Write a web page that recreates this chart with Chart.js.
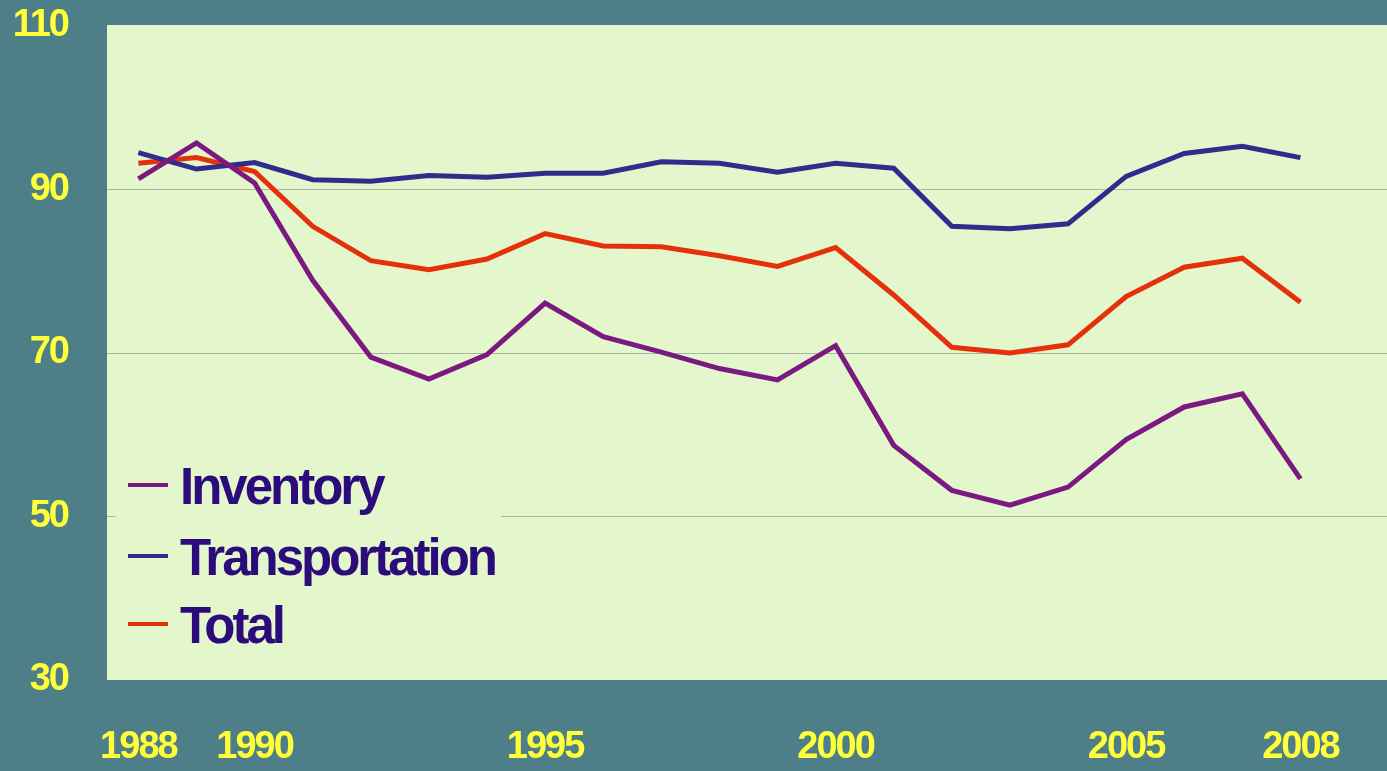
<!DOCTYPE html>
<html>
<head>
<meta charset="utf-8">
<script src="https://cdn.jsdelivr.net/npm/chart.js@4/dist/chart.umd.min.js"></script>
<style>
html,body{margin:0;padding:0;background:#4e7f88;}
#wrap{width:1387px;height:771px;position:relative;}
</style>
</head>
<body>
<div id="wrap"><canvas id="c" width="1387" height="771"></canvas></div>
<script>
const years = [1988,1989,1990,1991,1992,1993,1994,1995,1996,1997,1998,1999,2000,2001,2002,2003,2004,2005,2006,2007,2008];
const inventory = [91.3,95.7,90.8,78.9,69.5,66.8,69.8,76.1,72.0,70.1,68.1,66.7,70.9,58.7,53.2,51.4,53.6,59.4,63.4,65.0,54.6];
const transportation = [94.5,92.5,93.3,91.2,91.0,91.7,91.5,92.0,92.0,93.4,93.2,92.1,93.2,92.6,85.5,85.2,85.8,91.6,94.4,95.3,93.9];
const total = [93.2,93.9,92.2,85.5,81.3,80.2,81.5,84.6,83.1,83.0,81.9,80.6,82.9,77.1,70.7,70.0,71.0,76.9,80.5,81.6,76.2];
const xTickValues = [1988,1990,1995,2000,2005,2008];
const xTickLabels = ['1988','1990','1995','2000','2005','2008'];
const yTickValues = [30,50,70,90,110];

const TEAL = '#4e7f88';
const PLOT = '#e4f6cc';
const YELLOW = '#ffff3a';
const FONT = '"Liberation Sans", Arial, sans-serif';

const spacingPlugin = {
  id: 'spacing',
  beforeUpdate(chart) { chart.ctx.letterSpacing = '-2px'; },
  beforeLayout(chart) { chart.ctx.letterSpacing = '-2px'; },
  beforeDraw(chart) { chart.ctx.letterSpacing = '-2px'; }
};

const bgPlugin = {
  id: 'bg',
  beforeDraw(chart) {
    const {ctx, chartArea: a} = chart;
    ctx.save();
    ctx.fillStyle = TEAL;
    ctx.fillRect(0, 0, chart.width, chart.height);
    ctx.fillStyle = PLOT;
    ctx.fillRect(a.left, a.top - 1, a.right - a.left, a.bottom - a.top + 1);
    ctx.restore();
  }
};

const legendPlugin = {
  id: 'innerLegend',
  afterDatasetsDraw(chart) {
    const {ctx, chartArea: a} = chart;
    ctx.save();
    ctx.fillStyle = PLOT;
    ctx.fillRect(a.left + 9, 455, 385, 195);
    const rows = [485, 556, 624];
    chart.data.datasets.forEach((ds, i) => {
      const y = rows[i];
      ctx.strokeStyle = ds.borderColor;
      ctx.lineWidth = 4;
      ctx.beginPath();
      ctx.moveTo(128, y);
      ctx.lineTo(168, y);
      ctx.stroke();
      ctx.fillStyle = '#2b0c7a';
      ctx.font = 'bold 51px ' + FONT;
      ctx.letterSpacing = '-3px';
      ctx.textBaseline = 'alphabetic';
      ctx.textAlign = 'left';
      ctx.fillText(ds.label, 180, y + 19);
    });
    ctx.restore();
  }
};

new Chart(document.getElementById('c'), {
  type: 'line',
  data: {
    datasets: [
      {label: 'Inventory', data: years.map((y, i) => ({x: y, y: inventory[i]})), borderColor: '#7a1a80'},
      {label: 'Transportation', data: years.map((y, i) => ({x: y, y: transportation[i]})), borderColor: '#2f2c8e'},
      {label: 'Total', data: years.map((y, i) => ({x: y, y: total[i]})), borderColor: '#e5300c'}
    ].map(d => Object.assign(d, {borderWidth: 5, pointRadius: 0, tension: 0, fill: false, borderJoinStyle: 'miter'}))
  },
  options: {
    responsive: false,
    animation: false,
    layout: {padding: {top: 26, right: 0, left: 0, bottom: 0}},
    plugins: {legend: {display: false}, tooltip: {enabled: false}},
    scales: {
      x: {
        type: 'linear',
        min: 1987.46,
        max: 2009.49,
        afterBuildTicks(axis) { axis.ticks = xTickValues.map(v => ({value: v})); },
        afterFit(axis) { axis.height = 91; axis.paddingLeft = 0; axis.paddingRight = 0; },
        grid: {display: false, drawTicks: false},
        border: {display: false},
        ticks: {
          autoSkip: false,
          maxRotation: 0,
          padding: 45,
          color: YELLOW,
          font: {family: FONT, size: 38, weight: 'bold'},
          callback(v) { const i = xTickValues.indexOf(v); return i >= 0 ? xTickLabels[i] : ''; }
        }
      },
      y: {
        min: 30,
        max: 110,
        afterBuildTicks(axis) { axis.ticks = yTickValues.map(v => ({value: v})); },
        afterFit(axis) { axis.width = 107; axis.paddingTop = 0; axis.paddingBottom = 0; },
        grid: {
          drawTicks: false,
          color(ctx) { const v = ctx.tick && ctx.tick.value; return (v === 30 || v === 110) ? 'rgba(0,0,0,0)' : '#a9b8a4'; },
          lineWidth: 1
        },
        border: {display: false},
        ticks: {
          padding: 39,
          color: YELLOW,
          font: {family: FONT, size: 38, weight: 'bold'}
        }
      }
    }
  },
  plugins: [spacingPlugin, bgPlugin, legendPlugin]
});
</script>
</body>
</html>
